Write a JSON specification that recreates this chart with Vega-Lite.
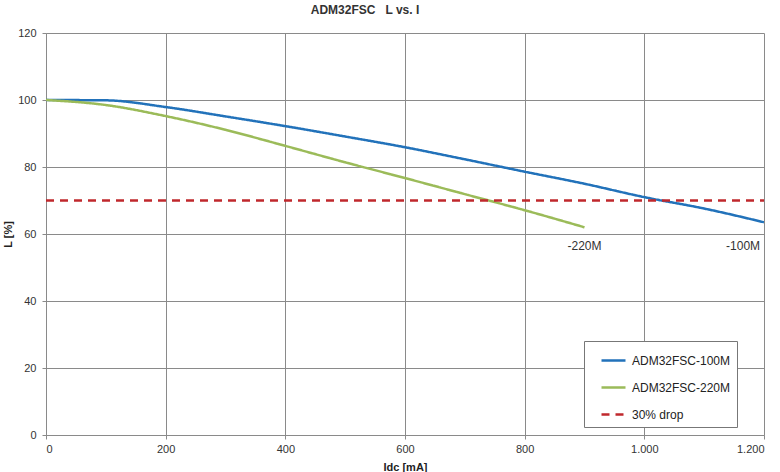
{
  "$schema": "https://vega.github.io/schema/vega-lite/v6.json",
  "width": 718,
  "height": 402,
  "autosize": {"type": "none"},
  "padding": {"left": 46, "top": 33, "right": 16, "bottom": 37},
  "background": "white",
  "config": {
    "font": "Liberation Sans",
    "view": {"stroke": null},
    "axis": {
      "gridColor": "#8a8a8a",
      "gridWidth": 1,
      "gridOpacity": 1,
      "domainColor": "#8a8a8a",
      "tickColor": "#8a8a8a",
      "tickSize": 4,
      "labelColor": "#333333",
      "labelFontSize": 11,
      "titleFontSize": 11,
      "titleFontWeight": "bold",
      "titleColor": "#222222"
    }
  },
  "title": {
    "text": "ADM32FSC\u00a0\u00a0\u00a0L vs. I",
    "fontSize": 12,
    "fontWeight": "bold",
    "color": "#333333",
    "anchor": "middle",
    "dx": -40,
    "offset": 10
  },
  "datasets": {
    "curves": [
      {"series": "ADM32FSC-100M", "I": 0, "L": 100},
      {"series": "ADM32FSC-100M", "I": 100, "L": 99.9},
      {"series": "ADM32FSC-100M", "I": 200, "L": 97.9},
      {"series": "ADM32FSC-100M", "I": 300, "L": 95.1},
      {"series": "ADM32FSC-100M", "I": 400, "L": 92.2},
      {"series": "ADM32FSC-100M", "I": 500, "L": 89.1},
      {"series": "ADM32FSC-100M", "I": 600, "L": 85.9},
      {"series": "ADM32FSC-100M", "I": 700, "L": 82.3},
      {"series": "ADM32FSC-100M", "I": 800, "L": 78.6},
      {"series": "ADM32FSC-100M", "I": 900, "L": 75.0},
      {"series": "ADM32FSC-100M", "I": 1000, "L": 71.0},
      {"series": "ADM32FSC-100M", "I": 1100, "L": 67.6},
      {"series": "ADM32FSC-100M", "I": 1200, "L": 63.5},
      {"series": "ADM32FSC-220M", "I": 0, "L": 100},
      {"series": "ADM32FSC-220M", "I": 100, "L": 98.5},
      {"series": "ADM32FSC-220M", "I": 200, "L": 95.2},
      {"series": "ADM32FSC-220M", "I": 300, "L": 91.1},
      {"series": "ADM32FSC-220M", "I": 400, "L": 86.3},
      {"series": "ADM32FSC-220M", "I": 500, "L": 81.4},
      {"series": "ADM32FSC-220M", "I": 600, "L": 76.7},
      {"series": "ADM32FSC-220M", "I": 700, "L": 71.9},
      {"series": "ADM32FSC-220M", "I": 800, "L": 67.1},
      {"series": "ADM32FSC-220M", "I": 900, "L": 62.0},
      {"series": "30% drop", "I": 0, "L": 70},
      {"series": "30% drop", "I": 1200, "L": 70}
    ],
    "labels": [
      {"label": "-220M", "I": 900, "L": 56.5},
      {"label": "-100M", "I": 1165, "L": 56.5}
    ]
  },
  "layer": [
    {
      "data": {"name": "curves"},
      "mark": {"type": "line", "strokeWidth": 2.5, "interpolate": "monotone", "clip": true},
      "encoding": {
        "x": {
          "field": "I",
          "type": "quantitative",
          "title": "Idc [mA]",
          "scale": {"domain": [0, 1200], "nice": false},
          "axis": {
            "values": [0, 200, 400, 600, 800, 1000, 1200],
            "labelExpr": "replace(format(datum.value, ','), ',', '.')",
            "labelPadding": 4,
            "titlePadding": 7
          }
        },
        "y": {
          "field": "L",
          "type": "quantitative",
          "title": "L [%]",
          "scale": {"domain": [0, 120], "nice": false},
          "axis": {
            "values": [0, 20, 40, 60, 80, 100, 120],
            "labelPadding": 6,
            "titlePadding": 4
          }
        },
        "color": {
          "field": "series",
          "type": "nominal",
          "scale": {
            "domain": ["ADM32FSC-100M", "ADM32FSC-220M", "30% drop"],
            "range": ["#2272BA", "#9BBB59", "#C0282D"]
          },
          "legend": {
            "title": null,
            "orient": "none",
            "legendX": 538,
            "legendY": 308,
            "symbolType": "stroke",
            "symbolSize": 576,
            "symbolStrokeWidth": 2.5,
            "symbolOffset": 10,
            "labelFontSize": 12,
            "labelColor": "#222222",
            "labelOffset": 5,
            "labelExpr": "datum.label + '\u00a0\u00a0\u00a0\u00a0\u00a0\u00a0\u00a0\u00a0\u00a0'",
            "labelLimit": 300,
            "padding": 6,
            "rowPadding": 7,
            "strokeColor": "#777777",
            "fillColor": "white",
            "cornerRadius": 0
          }
        },
        "strokeDash": {
          "field": "series",
          "type": "nominal",
          "scale": {
            "domain": ["ADM32FSC-100M", "ADM32FSC-220M", "30% drop"],
            "range": [[1, 0], [1, 0], [8, 6]]
          },
          "legend": null
        },
        "order": {"field": "I", "type": "quantitative"}
      }
    },
    {
      "data": {"name": "labels"},
      "mark": {"type": "text", "fontSize": 12, "color": "#333333", "align": "center", "baseline": "middle"},
      "encoding": {
        "x": {"field": "I", "type": "quantitative"},
        "y": {"field": "L", "type": "quantitative"},
        "text": {"field": "label"}
      }
    }
  ]
}
